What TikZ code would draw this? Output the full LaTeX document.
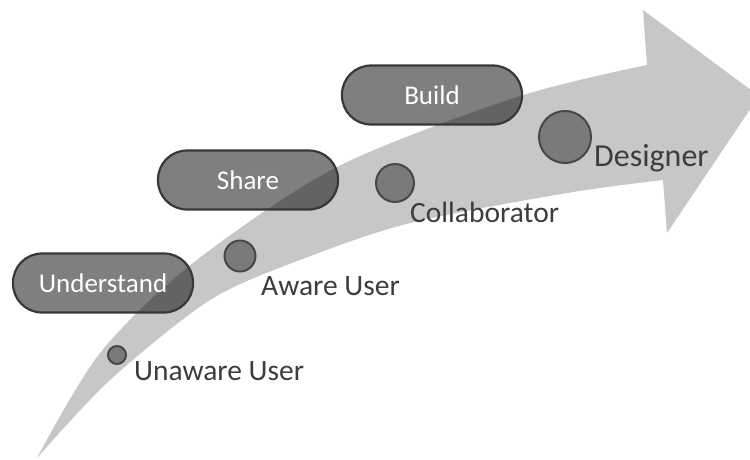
\documentclass[tikz,border=0pt]{standalone}
\usepackage{fontspec}
\setmainfont{Carlito}
\usepackage{tikz}
\usetikzlibrary{positioning}

\tikzset{
  stage/.style={draw=black!78,line width=2.2pt,fill=black,fill opacity=0.5,text opacity=1,
    text=white,rounded corners=29pt,minimum width=180pt,minimum height=59pt,
    font=\fontsize{27}{27}\selectfont},
  dot/.style={circle,draw=black!72,line width=2pt,fill=black!52,inner sep=0pt},
  who/.style={anchor=base west,inner sep=0pt,text=black!76,font=\fontsize{29.5}{30}\selectfont}
}

\begin{document}
\begin{tikzpicture}[x=1pt,y=-1pt]
\useasboundingbox (0,0) rectangle (750,459);
\clip (0,0) rectangle (750,459);
\fill[black!22] plot[smooth,tension=0.5] coordinates {(37,458) (100,353) (193,263) (337,167) (517,97) (647,65)}
  -- (643,10) -- (759,96) -- (667,233) -- (663,180)
  -- plot[smooth,tension=0.5] coordinates {(663,180) (567,193) (410,223) (300,260) (210,300) (110,380) (37,458)} -- cycle;
\node[stage] (understand) at (103,283) {Understand};
\node[stage] (share) at (248,180) {Share};
\node[stage] (build) at (432,95) {Build};
\node[dot,minimum size=18pt] (unaware) at (117,355) {};
\node[dot,minimum size=31pt] (aware) at (240,256) {};
\node[dot,minimum size=38pt] (collab) at (395,183) {};
\node[dot,minimum size=52pt] (designer) at (565,137) {};
\node[who] (unawaretext) at (134,380) {Unaware User};
\node[who] (awaretext) at (261,295) {Aware User};
\node[who] (collabtext) at (410,222) {Collaborator};
\node[who,font=\fontsize{32}{32}\selectfont] (designertext) at (594,166) {Designer};
\end{tikzpicture}
\end{document}
